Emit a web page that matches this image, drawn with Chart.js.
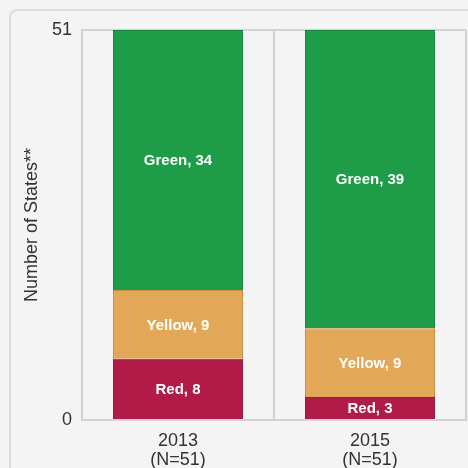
<!DOCTYPE html>
<html>
<head>
<meta charset="utf-8">
<script src="https://cdn.jsdelivr.net/npm/chart.js@4/dist/chart.umd.min.js"></script>
<style>
  html, body { margin: 0; padding: 0; background: #f4f4f4; }
  #wrap { position: relative; width: 468px; height: 468px; overflow: hidden; }
  #card { position: absolute; left: 9px; top: 9px; width: 500px; height: 500px;
          border: 2px solid #dcdcdc; border-radius: 8px; box-sizing: border-box; }
  canvas { position: absolute; left: 0; top: 0; }
</style>
</head>
<body>
<div id="wrap">
  <div id="card"></div>
  <canvas id="chart" width="468" height="468"></canvas>
</div>
<script>
const years = [['2013', '(N=51)'], ['2015', '(N=51)']];
const redCounts = [8, 3];
const yellowCounts = [9, 9];
const greenCounts = [34, 39];
const yTicks = [0, 51];

const textColor = '#333333';
const lineColor = '#d2d2d2';
const fontFamily = '"Liberation Sans", Arial, sans-serif';

// white "Name, n" labels in the middle of each segment
const segmentLabels = {
  id: 'segmentLabels',
  afterDatasetsDraw(chart) {
    const ctx = chart.ctx;
    ctx.save();
    ctx.fillStyle = '#ffffff';
    ctx.font = 'bold 15px ' + fontFamily;
    ctx.textAlign = 'center';
    ctx.textBaseline = 'middle';
    chart.data.datasets.forEach((ds, i) => {
      chart.getDatasetMeta(i).data.forEach((bar, j) => {
        const mid = (bar.y + bar.base) / 2;
        ctx.fillText(ds.label + ', ' + ds.data[j], bar.x, mid + 1);
      });
    });
    ctx.restore();
  }
};

new Chart(document.getElementById('chart'), {
  type: 'bar',
  data: {
    labels: years,
    datasets: [
      { label: 'Red', data: redCounts, backgroundColor: '#b01b47', borderColor: '#981840', borderWidth: 1 },
      { label: 'Yellow', data: yellowCounts, backgroundColor: '#e3a857', borderColor: '#c8903f', borderWidth: 1 },
      { label: 'Green', data: greenCounts, backgroundColor: '#1e9c47', borderColor: '#18873c', borderWidth: 1 }
    ]
  },
  options: {
    responsive: false,
    animation: false,
    layout: { padding: { top: 30, right: 2, left: 0, bottom: 0 } },
    plugins: { legend: { display: false }, tooltip: { enabled: false } },
    datasets: { bar: { categoryPercentage: 1, barPercentage: 0.677 } },
    scales: {
      x: {
        stacked: true,
        grid: { offset: true, color: lineColor, lineWidth: 2, drawTicks: false },
        border: { color: lineColor, width: 2 },
        ticks: { color: textColor, padding: 12, font: { family: fontFamily, size: 18, lineHeight: 1.05 } },
        afterFit(scale) { scale.height = 48; }
      },
      y: {
        stacked: true,
        min: 0,
        max: 51,
        afterBuildTicks(scale) { scale.ticks = yTicks.map(v => ({ value: v })); },
        grid: { color: lineColor, lineWidth: 2, drawTicks: false },
        border: { color: lineColor, width: 2 },
        ticks: { color: textColor, padding: 10, font: { family: fontFamily, size: 18 } },
        title: {
          display: true,
          text: 'Number of States**',
          color: textColor,
          padding: { top: 21, bottom: 0 },
          font: { family: fontFamily, size: 18 }
        },
        afterFit(scale) { scale.width = 82; }
      }
    }
  },
  plugins: [segmentLabels]
});
</script>
</body>
</html>
